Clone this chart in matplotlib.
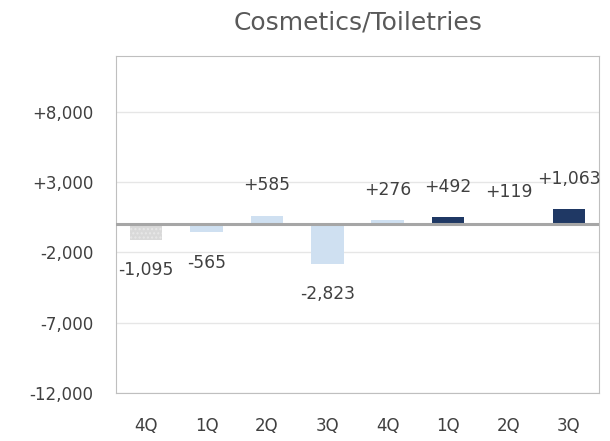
import matplotlib
matplotlib.use("Agg")
import matplotlib.pyplot as plt
import numpy as np

plt.rcParams['font.family'] = ['DejaVu Sans']

quarters = ['4Q', '1Q', '2Q', '3Q', '4Q', '1Q', '2Q', '3Q']
values = [-1095, -565, 585, -2823, 276, 492, 119, 1063]
labels = ['-1,095', '-565', '+585', '-2,823', '+276', '+492', '+119', '+1,063']
colors = ['#d9d9d9', '#cfe0f1', '#cfe0f1', '#cfe0f1', '#cfe0f1', '#1f3864', '#1f3864', '#1f3864']
yticks = [-12000, -7000, -2000, 3000, 8000]
ytick_labels = ['-12,000', '-7,000', '-2,000', '+3,000', '+8,000']

fig = plt.figure(figsize=(6.1, 4.41), dpi=100)
ax = fig.add_axes([0.190, 0.109, 0.792, 0.765])

x = np.arange(len(values))
bars = ax.bar(x, values, width=0.54, color=colors, zorder=2)
bars[0].set_hatch('....')
bars[0].set_edgecolor('#e8e8e8')
bars[0].set_linewidth(0)

ax.axhline(0, color='#a6a6a6', linewidth=2.2, zorder=3)

for xi, v, lab in zip(x, values, labels):
    off = 22 if v >= 0 else -22
    ax.annotate(lab, (xi, v), xytext=(0, off), textcoords='offset points',
                ha='center', va='center', fontsize=12.3, color='#404040')

ax.set_xlim(-0.5, len(values) - 0.5)
ax.set_ylim(-12000, 12000)
ax.set_yticks(yticks)
ax.set_yticklabels(ytick_labels)
ax.set_xticks(x)
ax.set_xticklabels(quarters)
ax.tick_params(axis='both', length=0, labelsize=12, labelcolor='#404040')
ax.tick_params(axis='x', pad=17)
ax.tick_params(axis='y', pad=16)
ax.grid(axis='y', color='#e6e6e6', linewidth=1, zorder=0)
for s in ax.spines.values():
    s.set_color('#bfbfbf')

fig.text(0.587, 0.948, 'Cosmetics/Toiletries', ha='center', va='center',
         fontsize=18, color='#595959')

fig.savefig('out.png', dpi=100)
